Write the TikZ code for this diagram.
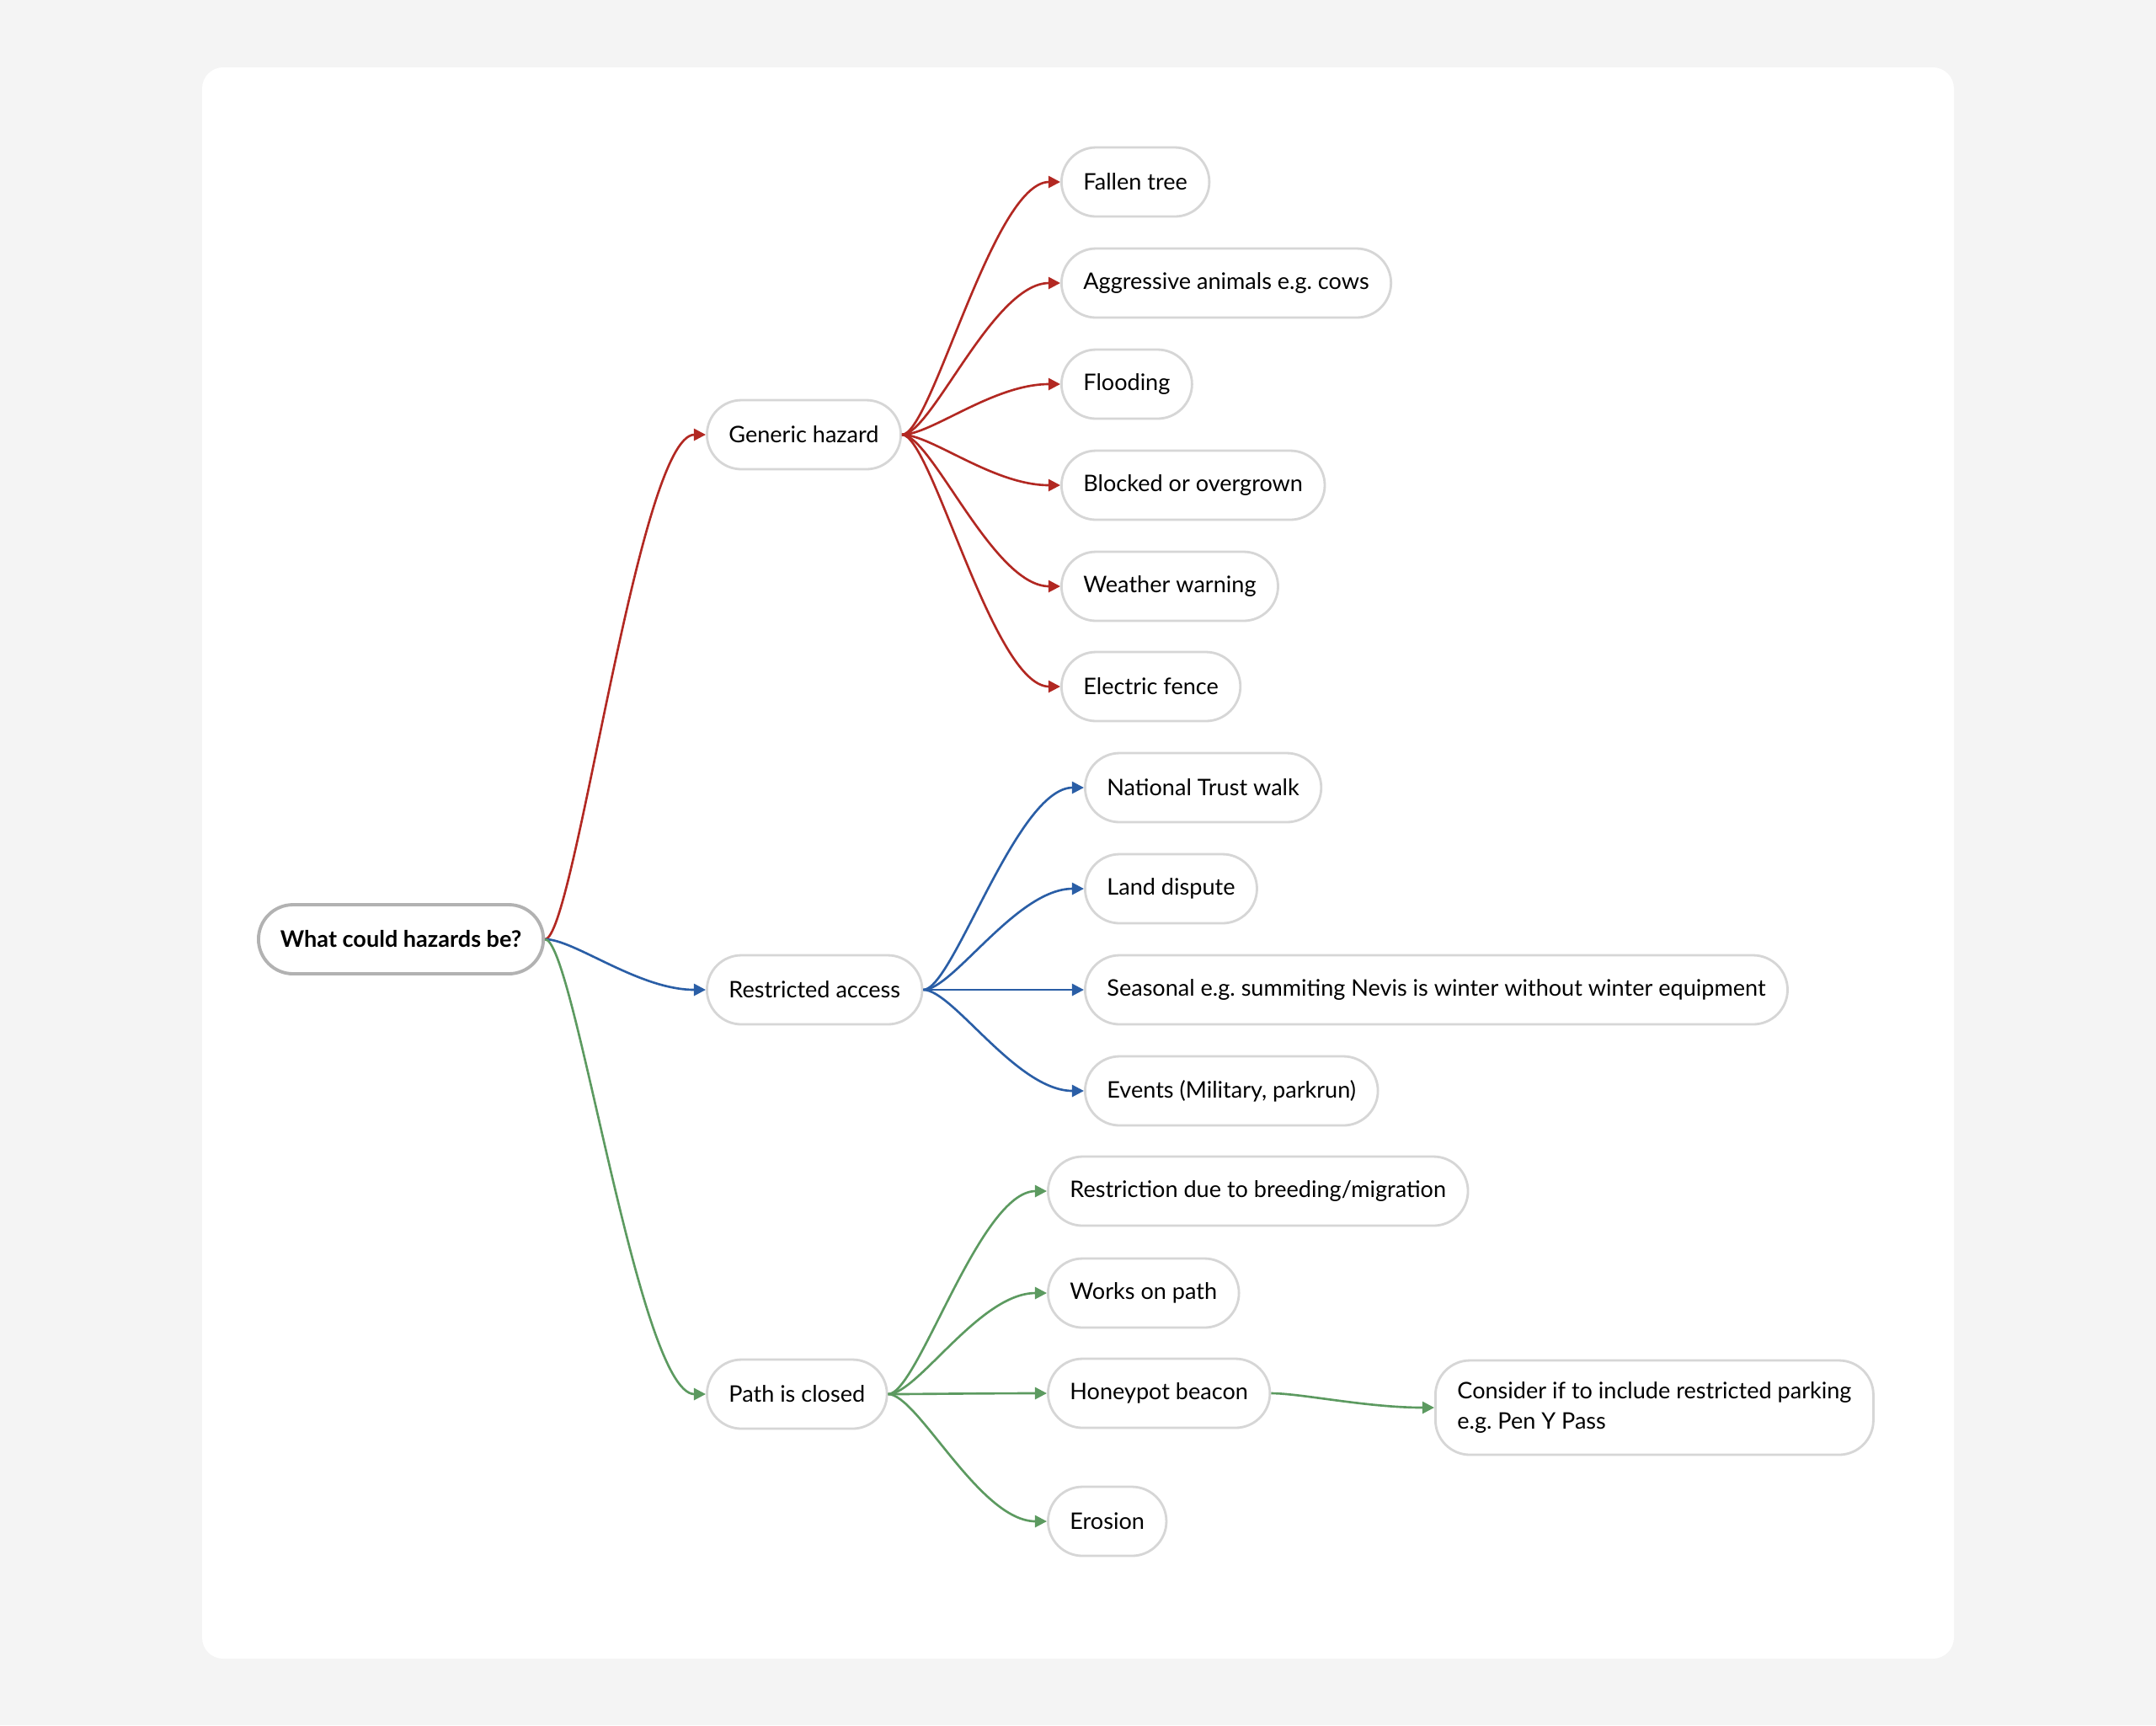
\documentclass[tikz,border=0pt]{standalone}
\usepackage{fontspec}
\setmainfont{Lato}
\frenchspacing
\usetikzlibrary{arrows.meta}
\definecolor{hzred}{RGB}{178,40,34}
\definecolor{hzblue}{RGB}{42,94,166}
\definecolor{hzgreen}{RGB}{92,154,96}
\definecolor{hzline}{RGB}{214,214,214}
\definecolor{hzroot}{RGB}{178,178,178}
\definecolor{hzback}{RGB}{244,244,244}
\tikzset{mbox/.style={draw=hzline,line width=0.8pt,rounded corners=0.41cm,minimum height=0.82cm,inner xsep=0.26cm,fill=white,font=\fontsize{7.7}{10}\selectfont,anchor=west}}
\tikzset{mroot/.style={mbox,draw=hzroot,line width=1.1pt,font=\fontsize{7.7}{10}\selectfont\bfseries}}
\tikzset{mlink/.style={-{Triangle[length=4pt,width=4pt]},line width=0.75pt,out=0,in=180,out distance=0.35cm,in distance=0.8cm}}

\begin{document}
\begin{tikzpicture}[x=1cm,y=-1cm]
\fill[hzback] (0,0) rectangle (25.6,20.48);
\fill[white,rounded corners=0.25cm] (2.40,0.80) rectangle (23.20,19.69);

\node[mroot] (root) at (3.05,11.15) {What could hazards be?};

\node[mbox] (generic) at (8.38,5.16) {Generic hazard};
\node[mbox] (restricted) at (8.38,11.75) {Restricted access};
\node[mbox] (closed) at (8.38,16.55) {Path is closed};

\node[mbox] (tree) at (12.59,2.16) {Fallen tree};
\node[mbox] (animals) at (12.59,3.36) {Aggressive animals e.g. cows};
\node[mbox] (flood) at (12.59,4.56) {Flooding};
\node[mbox] (blocked) at (12.59,5.76) {Blocked or overgrown};
\node[mbox] (weather) at (12.59,6.96) {Weather warning};
\node[mbox] (fence) at (12.59,8.15) {Electric fence};

\node[mbox] (trust) at (12.87,9.35) {National Trust walk};
\node[mbox] (dispute) at (12.87,10.55) {Land dispute};
\node[mbox] (seasonal) at (12.87,11.75) {Seasonal e.g. summiting Nevis is winter without winter equipment};
\node[mbox] (events) at (12.87,12.95) {Events (Military, parkrun)};

\node[mbox] (breeding) at (12.43,14.14) {Restriction due to breeding/migration};
\node[mbox] (works) at (12.43,15.35) {Works on path};
\node[mbox] (honeypot) at (12.43,16.54) {Honeypot beacon};
\node[mbox] (erosion) at (12.43,18.06) {Erosion};
\node[mbox,minimum height=1.12cm,align=left] (parking) at (17.03,16.71) {Consider if to include restricted parking\\e.g. Pen Y Pass};

% first level
\draw[mlink,hzred] (root.east) to (generic.west);
\draw[mlink,hzblue] (root.east) to (restricted.west);
\draw[mlink,hzgreen] (root.east) to (closed.west);

% generic hazard
\draw[mlink,hzred] (generic.east) to (tree.west);
\draw[mlink,hzred] (generic.east) to (animals.west);
\draw[mlink,hzred] (generic.east) to (flood.west);
\draw[mlink,hzred] (generic.east) to (blocked.west);
\draw[mlink,hzred] (generic.east) to (weather.west);
\draw[mlink,hzred] (generic.east) to (fence.west);

% restricted access
\draw[mlink,hzblue] (restricted.east) to (trust.west);
\draw[mlink,hzblue] (restricted.east) to (dispute.west);
\draw[mlink,hzblue] (restricted.east) to (seasonal.west);
\draw[mlink,hzblue] (restricted.east) to (events.west);

% path is closed
\draw[mlink,hzgreen] (closed.east) to (breeding.west);
\draw[mlink,hzgreen] (closed.east) to (works.west);
\draw[mlink,hzgreen] (closed.east) to (honeypot.west);
\draw[mlink,hzgreen] (closed.east) to (erosion.west);
\draw[mlink,hzgreen] (honeypot.east) to (parking.west);

\end{tikzpicture}
\end{document}
